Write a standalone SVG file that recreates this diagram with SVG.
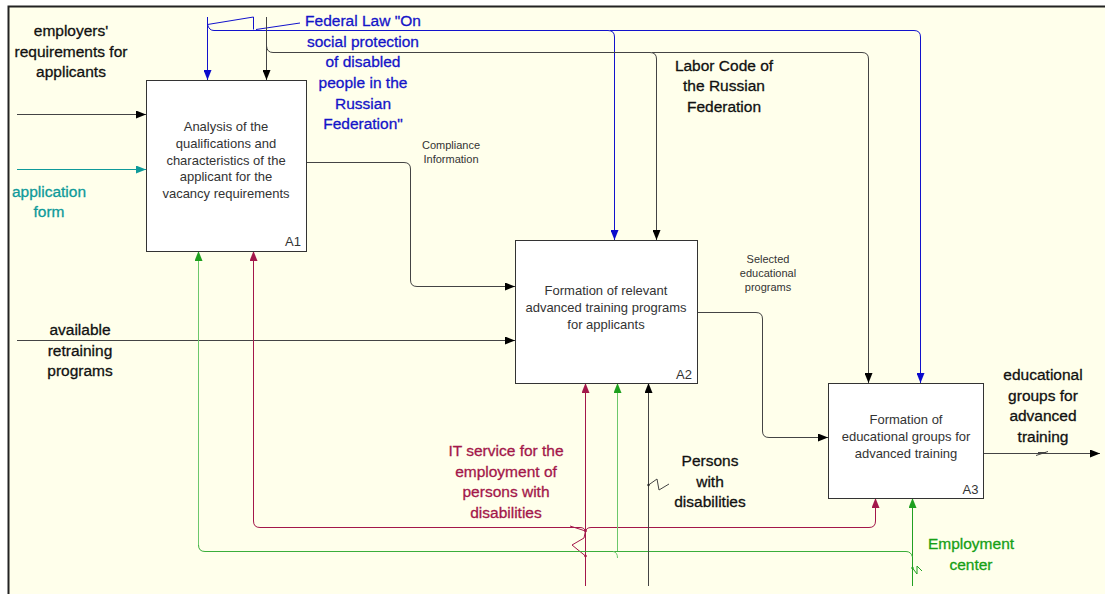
<svg xmlns="http://www.w3.org/2000/svg" width="1105" height="594" viewBox="0 0 1105 594">
  <defs>
    <style>
      .box { fill: #ffffff; stroke: #333333; stroke-width: 1; }
      .bt { font-family: "Liberation Sans", Arial, sans-serif; font-size: 13px; fill: #333333; text-anchor: middle; }
      .tag { font-family: "Liberation Sans", Arial, sans-serif; font-size: 13px; fill: #333333; text-anchor: end; }
      .lbl { font-family: "Liberation Sans", Arial, sans-serif; font-size: 15.5px; text-anchor: middle; stroke-width: 0.3; }
      .sm { font-family: "Liberation Sans", Arial, sans-serif; font-size: 11px; fill: #333333; text-anchor: middle; }
      .k { stroke: #444444; fill: none; }
      .b { stroke: #1212CC; fill: none; }
      .t { stroke: #0E9A9A; fill: none; }
      .r { stroke: #A3174A; fill: none; }
      .g { stroke: #3AAE3A; fill: none; }
      .lg { stroke: #6CC86C; fill: none; }
      .dg { stroke: #22A022; fill: none; }
    </style>
    <marker id="ak" markerUnits="userSpaceOnUse" markerWidth="10" markerHeight="8" refX="10" refY="4" orient="auto"><path d="M0,0 L10,4 L0,8 z" fill="#000000"/></marker>
    <marker id="ab" markerUnits="userSpaceOnUse" markerWidth="10" markerHeight="8" refX="10" refY="4" orient="auto"><path d="M0,0 L10,4 L0,8 z" fill="#0A0ACC"/></marker>
    <marker id="at" markerUnits="userSpaceOnUse" markerWidth="10" markerHeight="8" refX="10" refY="4" orient="auto"><path d="M0,0 L10,4 L0,8 z" fill="#0E9A9A"/></marker>
    <marker id="ar" markerUnits="userSpaceOnUse" markerWidth="10" markerHeight="8" refX="10" refY="4" orient="auto"><path d="M0,0 L10,4 L0,8 z" fill="#A3174A"/></marker>
    <marker id="ag" markerUnits="userSpaceOnUse" markerWidth="10" markerHeight="8" refX="10" refY="4" orient="auto"><path d="M0,0 L10,4 L0,8 z" fill="#1EA01E"/></marker>
  </defs>

  <!-- page and frame -->
  <rect x="0" y="0" width="1105" height="594" fill="#ffffff"/>
  <rect x="8.5" y="6.5" width="1110" height="600" fill="#FFFFEB" stroke="#222222" stroke-width="2"/>

  <!-- connectors -->
  <g id="connectors">
    <!-- inputs -->
    <path class="k" d="M17,114.5 H146" marker-end="url(#ak)"/>
    <path class="t" d="M17,169.5 H146" marker-end="url(#at)"/>
    <path class="k" d="M17,340.5 H515" marker-end="url(#ak)"/>
    <path class="k" d="M306,162.5 H404 Q410.5,162.5 410.5,169 V280 Q410.5,286.5 417,286.5 H515" marker-end="url(#ak)"/>
    <path class="k" d="M697,312.5 H756 Q762.5,312.5 762.5,319 V431 Q762.5,437.5 769,437.5 H828" marker-end="url(#ak)"/>
    <!-- output -->
    <path class="k" d="M983,453.5 H1100" marker-end="url(#ak)"/>
    <path class="k" d="M1036,455.5 L1048,451.5 M1038,452.5 H1046"/>

    <!-- Federal law control -->
    <path class="b" d="M207.5,17 V80" marker-end="url(#ab)"/>
    <path class="b" d="M207.5,24.5 Q209,30.5 214,30.5 H608 Q614.5,30.5 614.5,37 V240" marker-end="url(#ab)"/>
    <path class="b" d="M610,30.5 H914 Q920.5,30.5 920.5,37 V383" marker-end="url(#ab)"/>
    <path class="b" d="M207.5,24.5 L253.5,17 V29.5"/>
    <path class="b" d="M256,29.5 L300,23"/>

    <!-- Labor code control -->
    <path class="k" d="M266.5,17 V80" marker-end="url(#ak)"/>
    <path class="k" d="M266.5,46 Q267,52.5 273,52.5 H650 Q656.5,52.5 656.5,59 V240" marker-end="url(#ak)"/>
    <path class="k" d="M652,52.5 H862 Q868.5,52.5 868.5,59 V383" marker-end="url(#ak)"/>

    <!-- IT service mechanism -->
    <path class="r" d="M585.5,586 V383" marker-end="url(#ar)"/>
    <path class="r" d="M585.5,532 Q585,527.5 580,527.5 H260 Q253.5,527.5 253.5,521 V251" marker-end="url(#ar)"/>
    <path class="r" d="M585.5,532 Q586,527.5 591,527.5 H869 Q875.5,527.5 875.5,521 V498" marker-end="url(#ar)"/>
    <polyline class="r" points="570,526 585.5,531 584,538 572,545 585.5,556"/>
    <circle cx="585.5" cy="531" r="1.3" fill="#A3174A"/>
    <circle cx="585.5" cy="556" r="1.3" fill="#A3174A"/>

    <!-- Employment center mechanism -->
    <path class="dg" d="M912.5,586 V498" marker-end="url(#ag)"/>
    <path class="g" d="M912.5,557 Q911,551.5 906,551.5 H205 Q198.5,551.5 198.5,545"/>
    <path class="lg" d="M198.5,545 V251" marker-end="url(#ag)"/>
    <path class="lg" d="M617.5,551 V383" marker-end="url(#ag)"/>
    <path class="lg" d="M613,551.5 Q617.5,552 617.5,558"/>
    <polyline class="dg" points="912.5,568 917,574 917,566 922,571"/>
    <circle cx="912.5" cy="568" r="1.2" fill="#22A022"/>

    <!-- Persons with disabilities mechanism -->
    <path class="k" d="M648.5,586 V383" marker-end="url(#ak)"/>
    <polyline class="k" points="648.5,485 657,479 659,490 669,484"/>
    <circle cx="648.5" cy="485" r="1.2" fill="#222222"/>
  </g>

  <!-- activity boxes -->
  <g id="A1">
    <rect class="box" x="146.5" y="80.5" width="160" height="171"/>
    <text class="bt" x="226" y="131">Analysis of the</text>
    <text class="bt" x="226" y="147.8">qualifications and</text>
    <text class="bt" x="226" y="164.6">characteristics of the</text>
    <text class="bt" x="226" y="181.4">applicant for the</text>
    <text class="bt" x="226" y="198.2">vacancy requirements</text>
    <text class="tag" x="301" y="246">A1</text>
  </g>
  <g id="A2">
    <rect class="box" x="515.5" y="240.5" width="182" height="143"/>
    <text class="bt" x="606" y="294.5">Formation of relevant</text>
    <text class="bt" x="606" y="311.5">advanced training programs</text>
    <text class="bt" x="606" y="328.5">for applicants</text>
    <text class="tag" x="692" y="378.5">A2</text>
  </g>
  <g id="A3">
    <rect class="box" x="828.5" y="383.5" width="155" height="115"/>
    <text class="bt" x="906" y="424">Formation of</text>
    <text class="bt" x="906" y="441">educational groups for</text>
    <text class="bt" x="906" y="458">advanced training</text>
    <text class="tag" x="978.5" y="493.5">A3</text>
  </g>

  <!-- arrow labels -->
  <g id="labels">
    <text class="lbl" fill="#111111" stroke="#111111"><tspan x="71" y="36">employers'</tspan><tspan x="71" y="56.7">requirements for</tspan><tspan x="71" y="77.3">applicants</tspan></text>
    <text class="lbl" fill="#0E9A9A" stroke="#0E9A9A"><tspan x="49" y="196.7">application</tspan><tspan x="49" y="217.3">form</tspan></text>
    <text class="lbl" fill="#111111" stroke="#111111"><tspan x="80" y="335">available</tspan><tspan x="80" y="355.7">retraining</tspan><tspan x="80" y="376.3">programs</tspan></text>
    <text class="lbl" fill="#1414C8" stroke="#1414C8"><tspan x="363" y="26">Federal Law "On</tspan><tspan x="363" y="46.7">social protection</tspan><tspan x="363" y="67.3">of disabled</tspan><tspan x="363" y="88">people in the</tspan><tspan x="363" y="108.7">Russian</tspan><tspan x="363" y="129.3">Federation"</tspan></text>
    <text class="lbl" fill="#111111" stroke="#111111"><tspan x="724" y="70.7">Labor Code of</tspan><tspan x="724" y="91.4">the Russian</tspan><tspan x="724" y="112.1">Federation</tspan></text>
    <text class="sm"><tspan x="451" y="149">Compliance</tspan><tspan x="451" y="162.5">Information</tspan></text>
    <text class="sm"><tspan x="768" y="262.5">Selected</tspan><tspan x="768" y="276.5">educational</tspan><tspan x="768" y="290.5">programs</tspan></text>
    <text class="lbl" fill="#111111" stroke="#111111"><tspan x="1043" y="380">educational</tspan><tspan x="1043" y="400.5">groups for</tspan><tspan x="1043" y="421">advanced</tspan><tspan x="1043" y="441.5">training</tspan></text>
    <text class="lbl" fill="#A3174A" stroke="#A3174A"><tspan x="506" y="456">IT service for the</tspan><tspan x="506" y="476.7">employment of</tspan><tspan x="506" y="497.4">persons with</tspan><tspan x="506" y="518.1">disabilities</tspan></text>
    <text class="lbl" fill="#111111" stroke="#111111"><tspan x="710" y="466">Persons</tspan><tspan x="710" y="486.7">with</tspan><tspan x="710" y="507.4">disabilities</tspan></text>
    <text class="lbl" fill="#16A016" stroke="#16A016"><tspan x="971" y="549">Employment</tspan><tspan x="971" y="569.7">center</tspan></text>
  </g>
</svg>
